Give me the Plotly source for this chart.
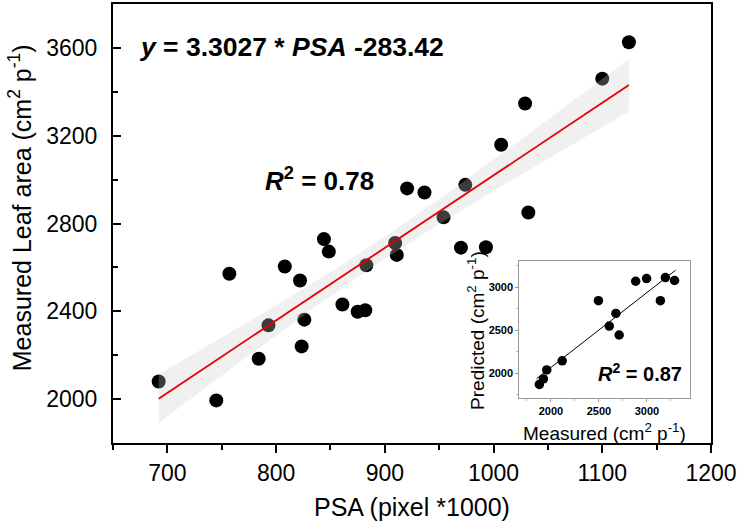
import numpy as np
import plotly.graph_objects as go

# ---- main data: PSA (pixel*1000) vs measured leaf area (cm2 p-1)
psa = [692, 745, 757, 784, 793, 808, 822, 823.5, 826, 844, 848.5, 861, 875, 882,
       883, 909.5, 911, 920.5, 936.5, 954, 970, 974, 993, 1007, 1029, 1032, 1100, 1124.5]
leaf_area = [2080, 1994, 2571, 2184, 2336, 2604, 2540, 2240, 2362, 2729, 2672, 2431, 2398, 2405,
             2610, 2711, 2657, 2960, 2941, 2828, 2690, 2976, 2692, 3159, 3347, 2850, 3460, 3626]
slope, intercept = 3.3027, -283.42

# ---- inset data: measured vs predicted
measured = [1879, 1921, 1956, 2117, 2495, 2608, 2677, 2711, 2883, 2997, 3141, 3193, 3289]
predicted = [1870, 1935, 2039, 2146, 2846, 2550, 2697, 2446, 3072, 3103, 2846, 3115, 3081]

main_xticks = [700, 800, 900, 1000, 1100, 1200]
main_yticks = [2000, 2400, 2800, 3200, 3600]
inset_ticks = [2000, 2500, 3000]

FONT = "Liberation Sans, Arial, Helvetica, sans-serif"

x = np.array(psa, float)
y = np.array(leaf_area, float)
n = len(x)
yhat = slope * x + intercept
s = np.sqrt(np.sum((y - yhat) ** 2) / (n - 2))
xbar = x.mean()
sxx = np.sum((x - xbar) ** 2)
tval = 1.45
xg = np.linspace(x.min(), x.max(), 80)
yg = slope * xg + intercept
hw = tval * s * np.sqrt(1.0 / n + (xg - xbar) ** 2 / sxx)

fig = go.Figure()
fig.add_trace(go.Scatter(x=psa, y=leaf_area, mode="markers",
                         marker=dict(size=14, color="black"), showlegend=False,
                         xaxis="x", yaxis="y"))
fig.add_trace(go.Scatter(x=np.concatenate([xg, xg[::-1]]),
                         y=np.concatenate([yg + hw, (yg - hw)[::-1]]),
                         fill="toself", fillcolor="rgba(203,203,203,0.29)",
                         line=dict(width=0), mode="lines", hoverinfo="skip",
                         showlegend=False, xaxis="x", yaxis="y"))
fig.add_trace(go.Scatter(x=[x.min(), x.max()], y=[slope * x.min() + intercept, slope * x.max() + intercept],
                         mode="lines", line=dict(color="rgb(228,0,0)", width=1.8),
                         showlegend=False, xaxis="x", yaxis="y"))

# inset
mx = np.array(measured, float)
pv = np.array(predicted, float)
b, a = np.polyfit(mx, pv, 1)
x0, x1 = mx.min() - 30, mx.max() + 10
fig.add_trace(go.Scatter(x=measured, y=predicted, mode="markers",
                         marker=dict(size=9.5, color="black"), showlegend=False,
                         xaxis="x2", yaxis="y2"))
fig.add_trace(go.Scatter(x=[x0, x1], y=[a + b * x0, a + b * x1],
                         mode="lines", line=dict(color="black", width=1),
                         showlegend=False, xaxis="x2", yaxis="y2"))

L, R, T, B = 113, 27, 2, 80
W, H = 739, 523
pw, ph = W - L - R, H - T - B

def px(xp):
    return (xp - L) / pw

def py_(yp):
    return (H - B - yp) / ph

fig.update_layout(
    width=W, height=H,
    margin=dict(l=L, r=R, t=T, b=B),
    paper_bgcolor="white", plot_bgcolor="white",
    font=dict(family=FONT, color="black"),
    xaxis=dict(domain=[0, 1], range=[650, 1200], tickvals=main_xticks,
               ticks="outside", ticklen=8, tickwidth=1.5, tickcolor="black",
               minor=dict(ticks="outside", ticklen=5, tickwidth=1.5, tickcolor="black", dtick=50),
               showline=True, linewidth=2, linecolor="black", mirror=True,
               showgrid=False, zeroline=False, tickfont=dict(size=23)),
    yaxis=dict(domain=[0, 1], range=[1800, 3800], tickvals=main_yticks,
               ticks="inside", ticklen=8, tickwidth=1.5, tickcolor="black",
               minor=dict(ticks="inside", ticklen=5, tickwidth=1.5, tickcolor="black", dtick=200),
               showline=True, linewidth=2, linecolor="black", mirror=True,
               showgrid=False, zeroline=False, tickfont=dict(size=23),
               ticklabelstandoff=9),
    xaxis2=dict(domain=[px(520), px(691)], range=[1670, 3450], anchor="y2",
                tickvals=inset_ticks, ticks="outside", ticklen=3, tickcolor="#999",
                minor=dict(ticks="outside", ticklen=2, tickcolor="#bbb", dtick=250),
                showline=True, linewidth=1, linecolor="#999", mirror=True,
                showgrid=False, zeroline=False,
                tickfont=dict(size=11, family=FONT, weight="bold")),
    yaxis2=dict(domain=[py_(398), py_(260)], range=[1710, 3310], anchor="x2",
                tickvals=inset_ticks, ticks="outside", ticklen=3, tickcolor="#999",
                minor=dict(ticks="outside", ticklen=2, tickcolor="#bbb", dtick=250),
                showline=True, linewidth=1, linecolor="#999", mirror=True,
                showgrid=False, zeroline=False,
                tickfont=dict(size=11, family=FONT, weight="bold")),
)

ann = [
    dict(text="PSA (pixel *1000)", x=px(413), y=py_(507), font=dict(size=25)),
    dict(text="Measured Leaf area (cm<sup>2</sup> p<sup>-1</sup>)", x=px(20), y=py_(207),
         textangle=-90, font=dict(size=25)),
    dict(text="<b><i>y</i> = 3.3027 * <i>PSA</i> -283.42</b>", x=px(137), y=py_(45),
         xanchor="left", font=dict(size=26.5)),
    dict(text="<b><i>R</i><sup>2</sup> = 0.78</b>", x=px(320), y=py_(178), font=dict(size=26)),
    dict(text="Measured (cm<sup>2</sup> p<sup>-1</sup>)", x=px(605), y=py_(432), font=dict(size=19)),
    dict(text="Predicted (cm<sup>2</sup> p<sup>-1</sup>)", x=px(476), y=py_(330),
         textangle=-90, font=dict(size=19)),
    dict(text="<b><i>R</i><sup>2</sup> = 0.87</b>", x=px(641), y=py_(372), font=dict(size=20)),
]
for d in ann:
    d.setdefault("xanchor", "center")
    fig.add_annotation(xref="paper", yref="paper", showarrow=False, yanchor="middle", **d)

fig.write_html("out.html", config={"displayModeBar": False},
               post_script="document.body.style.margin='0';document.body.style.overflow='hidden';")
